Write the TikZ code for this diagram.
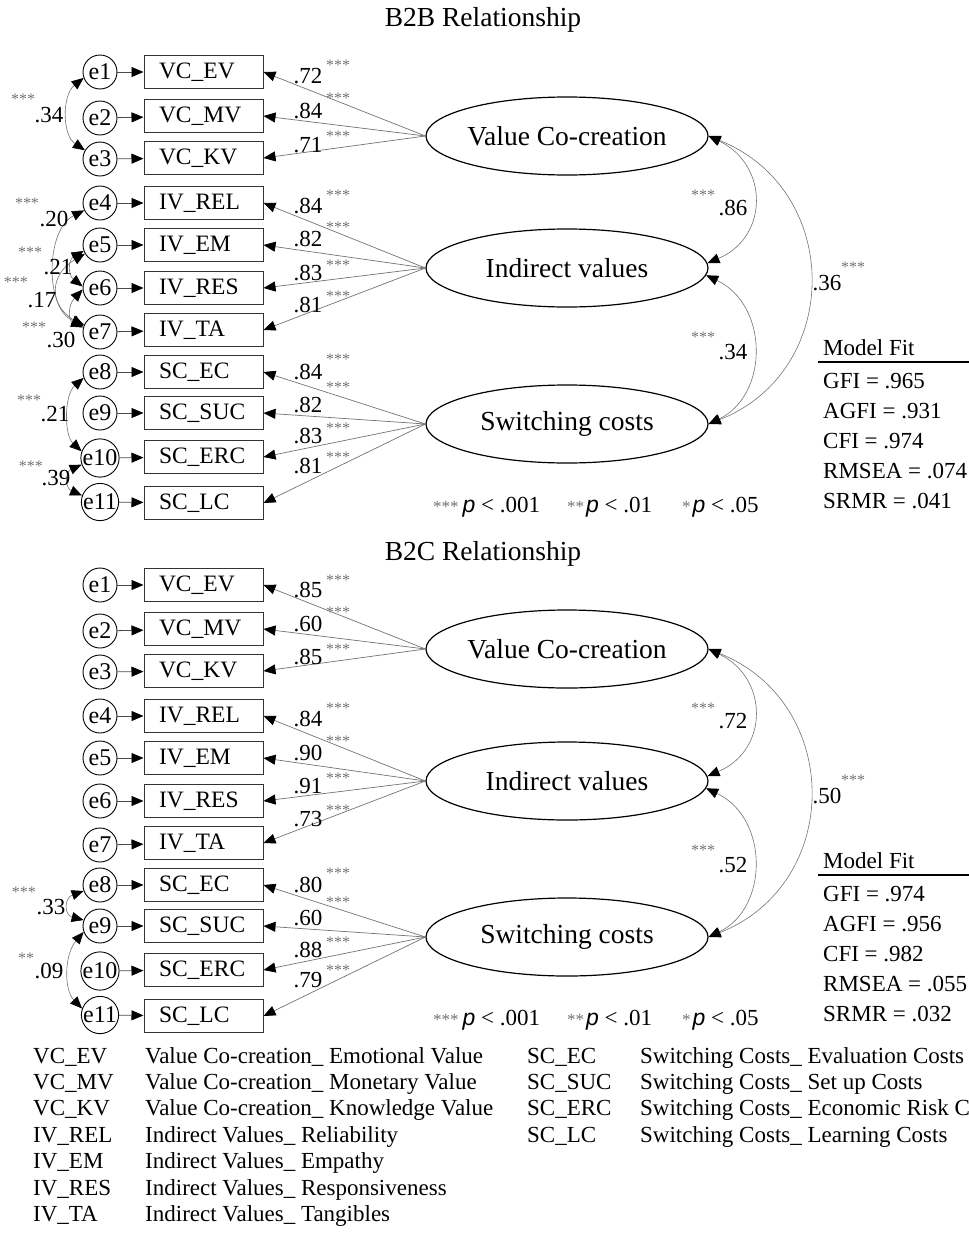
\documentclass[tikz,border=0pt]{standalone}
\usepackage{fontspec}
\setmainfont{Liberation Serif}
\newfontfamily\pfont{Liberation Sans}
\usetikzlibrary{shapes.geometric,arrows.meta}
\tikzset{
  errc/.style={circle,draw=black,line width=0.9pt,minimum size=34pt,inner sep=0pt,font=\fontsize{24}{24}\selectfont},
  obsbox/.style={rectangle,draw=black!80,line width=1pt,minimum height=33pt,inner ysep=0pt,inner xsep=15pt,text width=89pt,align=left,font=\fontsize{23.5}{24}\selectfont},
  latent/.style={ellipse,draw=black,line width=1.2pt,minimum width=282pt,minimum height=78pt,inner sep=0pt,font=\fontsize{27.5}{28}\selectfont},
  earrow/.style={-{Triangle[length=12pt,width=10pt,color=black]},line width=0.8pt,draw=black!70},
  load/.style={-{Triangle[length=12pt,width=10pt,color=black]},line width=0.7pt,draw=black!55},
  cov/.style={{Triangle[length=12pt,width=10pt,color=black]}-{Triangle[length=12pt,width=10pt,color=black]},line width=0.6pt,draw=black!55},
  num/.style={font=\fontsize{23}{23}\selectfont,inner sep=0pt},
  sig/.style={font=\fontsize{16}{16}\selectfont,text=black!55,inner sep=0pt,anchor=base},
  txt/.style={font=\fontsize{23}{23}\selectfont,inner sep=0pt,anchor=base west},
  ttl/.style={font=\fontsize{27.5}{28}\selectfont,inner sep=0pt},
}
\begin{document}
\begin{tikzpicture}[x=1pt,y=-1pt]
\useasboundingbox (0,0) rectangle (969,1253);
\clip (0,0) rectangle (969,1253);
\node[ttl] (t1) at (483,20) {B2B Relationship};
\node[ttl] (t2) at (483,554) {B2C Relationship};

\foreach \p/\o in {a/0,b/513}{
  \foreach \n/\lab/\yb/\ye in {1/VC\_EV/72/72,2/VC\_MV/116/118,3/VC\_KV/158/159,4/IV\_REL/203/203,5/IV\_EM/245/245,6/IV\_RES/288/288,7/IV\_TA/330/332,8/SC\_EC/372/372,9/SC\_SUC/413/413,10/SC\_ERC/457/458,11/SC\_LC/503/502}{
    \node[obsbox] (\p b\n) at (203.5,{\yb+\o}) {\lab};
    \node[errc] (\p e\n) at (100,{\ye+\o}) {e\n};
    \draw[earrow] (\p e\n) -- (\p b\n);
  }
  \node[latent] (\p VC) at (567,{136+\o}) {Value Co-creation};
  \node[latent] (\p IV) at (567,{268+\o}) {Indirect values};
  \node[latent] (\p SC) at (567,{424+\o}) {Switching costs};
  \foreach \n in {1,2,3} \draw[load] (\p VC.west) -- (\p b\n.east);
  \foreach \n in {4,5,6,7} \draw[load] (\p IV.west) -- (\p b\n.east);
  \foreach \n in {8,9,10,11} \draw[load] (\p SC.west) -- (\p b\n.east);
  \draw[cov] (\p VC.east) .. controls (769,{165+\o}) and (769,{237+\o}) .. (\p IV.2);
  \draw[cov] (\p IV.-3) .. controls (769,{305+\o}) and (769,{395+\o}) .. (\p SC.east);
  \draw[cov] (\p VC.east) .. controls (843,{190+\o}) and (843,{371+\o}) .. (\p SC.east);
  % model fit
  \node[txt] (\p mf) at (823,{355+\o}) {Model Fit};
  \coordinate (\p r1) at (818,{362+\o});
  \coordinate (\p r2) at (969,{362+\o});
  \draw[line width=2pt] (\p r1) -- (\p r2);
  % p legend
  \node[txt] (\p pl1) at (433,{512+\o}) {{\fontsize{17}{17}\selectfont\color{black!55}***}\kern4pt{\pfont\itshape p} < .001};
  \node[txt] (\p pl2) at (567,{512+\o}) {{\fontsize{17}{17}\selectfont\color{black!55}**}\kern2pt{\pfont\itshape p} < .01};
  \node[txt] (\p pl3) at (682,{512+\o}) {{\fontsize{17}{17}\selectfont\color{black!55}*}\kern2pt{\pfont\itshape p} < .05};
}
% model fit entries
\foreach \k/\y/\a/\b in {1/388/GFI = .965/GFI = .974,2/418/AGFI = .931/AGFI = .956,3/448/CFI = .974/CFI = .982,4/478/RMSEA = .074/RMSEA = .055,5/508/SRMR = .041/SRMR = .032}{
  \node[txt] (amf\k) at (823,\y) {\a};
  \node[txt] (bmf\k) at (823,{\y+513}) {\b};
}
% loading labels B2B
\foreach \k/\ny/\sy/\v in {1/76/63/.72,2/111/96/.84,3/145/134/.71,4/206/193/.84,5/239/225/.82,6/273/263/.83,7/305/294/.81,8/372/357/.84,9/405/385/.82,10/436/426/.83,11/466/455/.81}{
  \node[num] (aL\k) at (308,\ny) {\v};
  \node[sig] (aS\k) at (338,{\sy+7.5}) {***};
}
% loading labels B2C
\foreach \k/\ny/\sy/\v in {1/590/578/.85,2/624/610/.60,3/657/647/.85,4/719/706/.84,5/753/739/.90,6/786/776/.91,7/819/808/.73,8/885/871/.80,9/918/900/.60,10/950/940/.88,11/980/968/.79}{
  \node[num] (bL\k) at (308,\ny) {\v};
  \node[sig] (bS\k) at (338,{\sy+7.5}) {***};
}
% right covariance labels
\foreach \p/\o/\u/\w/\z in {a/0/.86/.34/.36,b/513/.72/.52/.50}{
  \node[sig] (\p cs1) at (703,{193+7.5+\o}) {***};
  \node[num] (\p cn1) at (733,{208+\o}) {\u};
  \node[sig] (\p cs2) at (703,{335+7.5+\o}) {***};
  \node[num] (\p cn2) at (733,{352+\o}) {\w};
  \node[num] (\p cn3) at (827,{283+\o}) {\z};
  \node[sig] (\p cs3) at (853,{265+7.5+\o}) {***};
}
% left covariances B2B
\draw[cov] (ae1.200) .. controls (62,95) and (62,135) .. (ae3.150);
\draw[cov] (ae4.205) .. controls (45,230) and (45,310) .. (ae7.155);
\draw[cov] (ae5.200) .. controls (68,260) and (68,275) .. (ae6.175);
\draw[cov] (ae5.210) .. controls (49,275) and (49,305) .. (ae7.160);
\draw[cov] (ae6.185) .. controls (68,305) and (68,320) .. (ae7.165);
\draw[cov] (ae8.200) .. controls (64,395) and (64,435) .. (ae10.160);
\draw[cov] (ae10.200) .. controls (65,472) and (65,488) .. (ae11.160);
\node[sig] (lc1s) at (23,{97+7.5}) {***};
\node[num] (lc1n) at (49,115) {.34};
\node[sig] (lc2s) at (27,{201+7.5}) {***};
\node[num] (lc2n) at (54,219) {.20};
\node[sig] (lc3s) at (30,{250+7.5}) {***};
\node[num] (lc3n) at (58,267) {.21};
\node[sig] (lc4s) at (16,{280+7.5}) {***};
\node[num] (lc4n) at (42,300) {.17};
\node[sig] (lc5s) at (34,{325+7.5}) {***};
\node[num] (lc5n) at (61,340) {.30};
\node[sig] (lc6s) at (29,{398+7.5}) {***};
\node[num] (lc6n) at (55,414) {.21};
\node[sig] (lc7s) at (31,{464+7.5}) {***};
\node[num] (lc7n) at (56,478) {.39};
% left covariances B2C
\draw[cov] (be8.200) .. controls (64,898) and (64,915) .. (be9.160);
\draw[cov] (be9.200) .. controls (64,955) and (64,990) .. (be11.160);
\node[sig] (lc8s) at (24,{890+7.5}) {***};
\node[num] (lc8n) at (51,907) {.33};
\node[sig] (lc9s) at (26,{956+7.5}) {**};
\node[num] (lc9n) at (49,971) {.09};
% bottom legend
\foreach \k/\y/\a/\b in {1/1063/VC\_EV/Value Co-creation\_ Emotional Value,2/1089/VC\_MV/Value Co-creation\_ Monetary Value,3/1115/VC\_KV/Value Co-creation\_ Knowledge Value,4/1142/IV\_REL/Indirect Values\_ Reliability,5/1168/IV\_EM/Indirect Values\_ Empathy,6/1195/IV\_RES/Indirect Values\_ Responsiveness,7/1221/IV\_TA/Indirect Values\_ Tangibles}{
  \node[txt] (ga\k) at (33,\y) {\a};
  \node[txt] (gb\k) at (145,\y) {\b};
}
\foreach \k/\y/\a/\b in {1/1063/SC\_EC/Switching Costs\_ Evaluation Costs,2/1089/SC\_SUC/Switching Costs\_ Set up Costs,3/1115/SC\_ERC/Switching Costs\_ Economic Risk Costs,4/1142/SC\_LC/Switching Costs\_ Learning Costs}{
  \node[txt] (gc\k) at (527,\y) {\a};
  \node[txt] (gd\k) at (640,\y) {\b};
}
\end{tikzpicture}
\end{document}
